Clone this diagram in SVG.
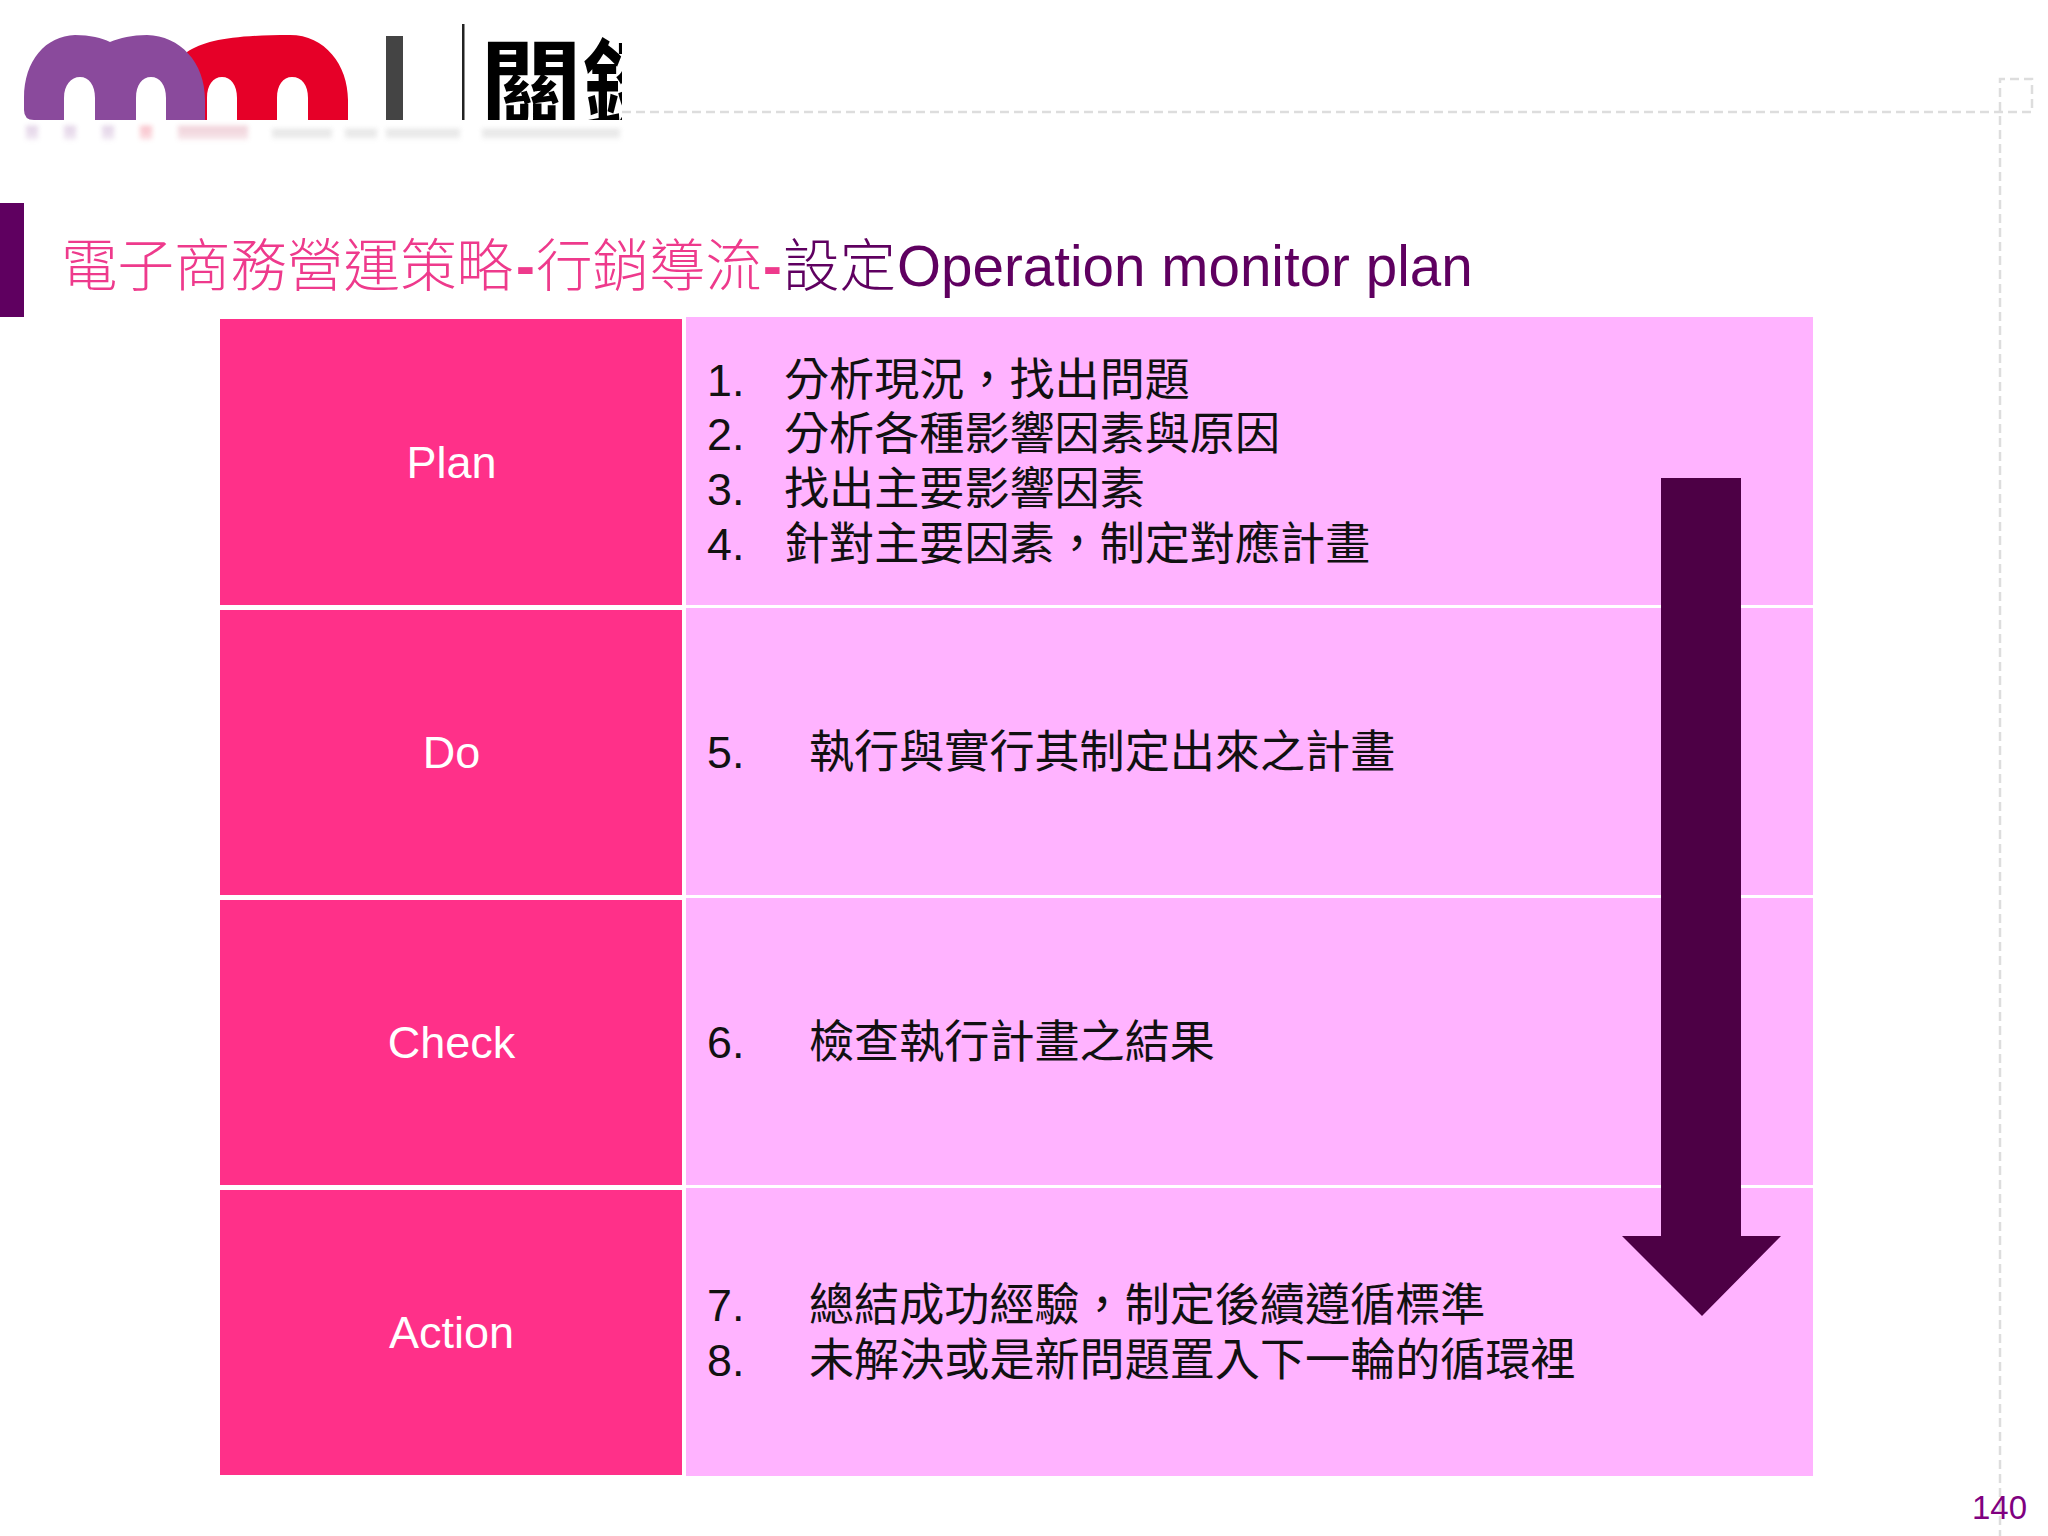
<svg xmlns="http://www.w3.org/2000/svg" width="2048" height="1536" viewBox="0 0 2048 1536">
<style>
.t{font-family:"Liberation Sans","Noto Sans CJK TC",sans-serif;font-size:44.8px;fill:#111}
.c{font-family:"Noto Sans CJK TC",sans-serif;font-size:45.1px}
.l{font-family:"Liberation Sans",sans-serif;font-size:45px;fill:#fff;text-anchor:middle}
.pink{fill:#ff3089}.lilac{fill:#ffb3ff}
.dash{fill:none;stroke:#ddd;stroke-width:2.5;stroke-dasharray:9 5}
</style>
<defs>
<clipPath id="logoClip"><rect x="470" y="20" width="152" height="100"/></clipPath>
<filter id="soft" x="-20%" y="-100%" width="140%" height="300%"><feGaussianBlur stdDeviation="2.5"/></filter>
<linearGradient id="fade" x1="0" y1="0" x2="0" y2="1"><stop offset="0" stop-color="#fff" stop-opacity="1"/><stop offset="1" stop-color="#fff" stop-opacity=".1"/></linearGradient>
<mask id="fadeMask" maskUnits="userSpaceOnUse" x="0" y="120" width="640" height="30"><rect x="0" y="120" width="640" height="30" fill="url(#fade)"/></mask>
</defs>
<rect width="2048" height="1536" fill="#fff"/>
<g id="frame">
<path class="dash" d="M622 112H2032V79H2000V1536"/>
</g>
<g id="logo">
<path fill="#e60028" d="M187 52C205 40 235 35 290 35C325 35 348 65 348 100V120H308V98C308 85 302 77 292 77C283 77 277 85 277 98V120H237V98C237 85 231 77 222 77C213 77 207 85 207 98V120H187Z"/>
<path fill="#8a4a9c" d="M24 110V98C24 60 46 36 75 35C90 35 102 38 110 42C120 38 132 35 147 35C180 36 205 62 205 100V120H166V98C166 85 160 77 151 77C142 77 136 85 136 98V120H95V98C95 85 89 77 80 77C71 77 64 85 64 98V120H34Q24 120 24 110Z"/>
<rect x="386" y="36" width="17" height="84" fill="#444"/>
<rect x="462" y="24" width="2.5" height="96" fill="#222"/>
<text x="480" y="125" clip-path="url(#logoClip)" font-family="'Noto Sans CJK TC',sans-serif" font-weight="700" font-size="102" fill="#000">關鍵</text>
<g mask="url(#fadeMask)"><g filter="url(#soft)" opacity=".3">
<rect x="26" y="126" width="12" height="14" fill="#8a4a9c"/>
<rect x="64" y="126" width="12" height="14" fill="#8a4a9c"/>
<rect x="102" y="126" width="12" height="14" fill="#8a4a9c"/>
<rect x="140" y="126" width="12" height="14" fill="#e60028"/>
<rect x="178" y="126" width="70" height="14" fill="#c04060"/>
<rect x="272" y="129" width="60" height="10" fill="#888"/>
<rect x="345" y="129" width="32" height="10" fill="#888"/>
<rect x="386" y="129" width="74" height="10" fill="#888"/>
<rect x="482" y="129" width="138" height="10" fill="#888"/>
</g></g>
</g>
<g id="title-bar"><rect x="0" y="203" width="24" height="114" fill="#5f0060"/></g>
<g id="title">
<text y="286" font-size="56.5" font-family="'Noto Sans CJK TC',sans-serif" font-weight="300"><tspan x="61" fill="#ee3a8c">電子商務營運策略</tspan><tspan x="516" fill="#ee3a8c" font-family="'Liberation Sans',sans-serif" font-weight="700">-</tspan><tspan x="536" fill="#ee3a8c">行銷導流</tspan><tspan x="763" fill="#ee3a8c" font-family="'Liberation Sans',sans-serif" font-weight="700">-</tspan><tspan x="783" fill="#5f0060">設定</tspan></text>
<text x="897" y="286" font-size="56.6" font-family="'Liberation Sans',sans-serif" fill="#5f0060">Operation monitor plan</text>
</g>
<g id="row-plan">
<rect class="pink" x="220" y="319" width="462" height="286"/>
<text class="l" x="451.5" y="478">Plan</text>
<rect class="lilac" x="686" y="317" width="1127" height="288"/>
<text class="t" y="396"><tspan x="707">1.</tspan><tspan class="c" x="784">分析現況&#65292;找出問題</tspan></text>
<text class="t" y="450"><tspan x="707">2.</tspan><tspan class="c" x="784">分析各種影響因素與原因</tspan></text>
<text class="t" y="505"><tspan x="707">3.</tspan><tspan class="c" x="784">找出主要影響因素</tspan></text>
<text class="t" y="560"><tspan x="707">4.</tspan><tspan class="c" x="784">針對主要因素&#65292;制定對應計畫</tspan></text>
</g>
<g id="row-do">
<rect class="pink" x="220" y="610" width="462" height="285"/>
<text class="l" x="451.5" y="768">Do</text>
<rect class="lilac" x="686" y="608" width="1127" height="287"/>
<text class="t" y="768"><tspan x="707">5.</tspan><tspan class="c" x="809">執行與實行其制定出來之計畫</tspan></text>
</g>
<g id="row-check">
<rect class="pink" x="220" y="900" width="462" height="285"/>
<text class="l" x="451.5" y="1058">Check</text>
<rect class="lilac" x="686" y="898" width="1127" height="287"/>
<text class="t" y="1058"><tspan x="707">6.</tspan><tspan class="c" x="809">檢查執行計畫之結果</tspan></text>
</g>
<g id="row-action">
<rect class="pink" x="220" y="1190" width="462" height="285"/>
<text class="l" x="451.5" y="1348">Action</text>
<rect class="lilac" x="686" y="1188" width="1127" height="288"/>
<text class="t" y="1321"><tspan x="707">7.</tspan><tspan class="c" x="809">總結成功經驗&#65292;制定後續遵循標準</tspan></text>
<text class="t" y="1376"><tspan x="707">8.</tspan><tspan class="c" x="809">未解決或是新問題置入下一輪的循環裡</tspan></text>
</g>
<g id="connectors">
<path fill="#4d0045" d="M1661 478H1741V1236H1781L1702 1316L1622 1236H1661Z"/>
</g>
<g id="page-number"><text x="2027" y="1519" text-anchor="end" font-family="'Liberation Sans',sans-serif" font-size="33" fill="#800080">140</text></g>
</svg>
